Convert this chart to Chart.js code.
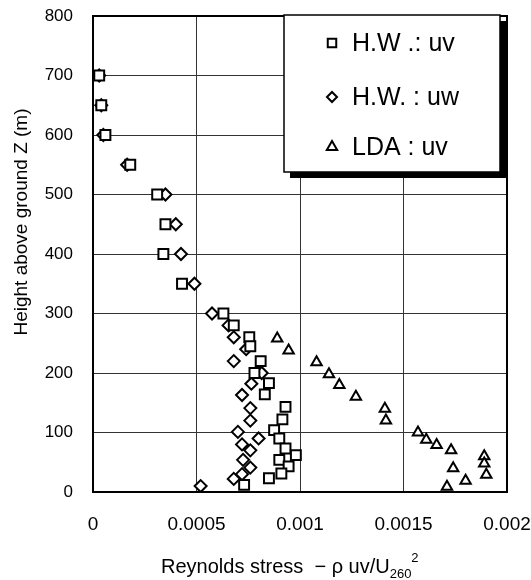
<!DOCTYPE html>
<html>
<head>
<meta charset="utf-8">
<script src="https://cdn.jsdelivr.net/npm/chart.js@4.4.0/dist/chart.umd.min.js"></script>
<style>
  html, body { margin: 0; padding: 0; background: #fff; }
</style>
</head>
<body>
<canvas id="stress-chart" width="531" height="580"></canvas>
<script>
// H.W. : uv (squares)
const hwUvHeights = [700, 650, 600, 550, 500, 450, 400, 350, 300, 280, 260, 245, 220, 200, 183, 164, 143, 122, 104, 90, 73, 62, 54, 43, 31, 23, 12];
const hwUvStress  = [0.00003, 0.00004, 0.00006, 0.00018, 0.00031, 0.00035, 0.00034, 0.00043, 0.00063, 0.00068, 0.000755, 0.00076, 0.00081, 0.00078, 0.00085, 0.00083, 0.00093, 0.000915, 0.000875, 0.0009, 0.00093, 0.00098, 0.0009, 0.000945, 0.00091, 0.00085, 0.00073];

// H.W. : uw (diamonds)
const hwUwHeights = [700, 650, 600, 550, 500, 450, 400, 350, 300, 280, 260, 240, 220, 200, 182, 163, 141, 120, 101, 90, 80, 70, 54, 41, 30, 22, 10];
const hwUwStress  = [0.00003, 0.00004, 0.00005, 0.000165, 0.00035, 0.0004, 0.000425, 0.00049, 0.000575, 0.000655, 0.00068, 0.00074, 0.00068, 0.000815, 0.000765, 0.00072, 0.00076, 0.00076, 0.0007, 0.0008, 0.00072, 0.00076, 0.000725, 0.00076, 0.00072, 0.00068, 0.00052];

// LDA : uv (triangles)
const ldaHeights = [258, 238, 218, 198, 180, 160, 140, 120, 100, 88, 79, 70, 60, 48, 40, 29, 19, 9];
const ldaStress  = [0.00089, 0.000945, 0.00108, 0.00114, 0.00119, 0.00127, 0.00141, 0.001415, 0.00157, 0.00161, 0.00166, 0.00173, 0.00189, 0.00189, 0.00174, 0.0019, 0.0018, 0.00171];

const seriesLabels = ['H.W .: uv', 'H.W. : uw', 'LDA : uv'];
const xTickValues = [0, 0.0005, 0.001, 0.0015, 0.002];
const xTickLabels = ['0', '0.0005', '0.001', '0.0015', '0.002'];

const FONT = "'Liberation Sans', Arial, Helvetica, sans-serif";

function toPoints(xs, ys) {
    return xs.map((x, i) => ({ x: x, y: ys[i] }));
}

// legend box, frame and axis titles
const decorPlugin = {
    id: 'decor',
    afterDraw(chart) {
        const ctx = chart.ctx;
        const area = chart.chartArea;
        ctx.save();

        // plot frame
        ctx.strokeStyle = '#000';
        ctx.lineWidth = 2;
        ctx.strokeRect(area.left, area.top, area.right - area.left, area.bottom - area.top);

        // legend box with shadow
        const bx = 284, by = 15, bw = 216, bh = 157;
        ctx.fillStyle = '#000';
        ctx.fillRect(bx + 6, by + 6, bw, bh);
        ctx.fillStyle = '#fff';
        ctx.fillRect(bx, by, bw, bh);
        ctx.lineWidth = 1.5;
        ctx.strokeStyle = '#000';
        ctx.strokeRect(bx, by, bw, bh);

        const rows = [43, 97, 147];
        const radii = [6, 5, 6];
        chart.data.datasets.forEach((ds, i) => {
            ctx.fillStyle = '#fff';
            ctx.strokeStyle = '#000';
            ctx.lineWidth = 2;
            Chart.helpers.drawPoint(ctx, {
                pointStyle: ds.pointStyle,
                radius: radii[i],
                borderWidth: 2,
                rotation: 0
            }, 332, rows[i]);
            ctx.fillStyle = '#000';
            ctx.font = '25px ' + FONT;
            ctx.textAlign = 'left';
            ctx.textBaseline = 'middle';
            ctx.fillText(ds.label, 352, rows[i] + 1);
        });

        // y title
        ctx.save();
        ctx.translate(22, 222);
        ctx.rotate(-Math.PI / 2);
        ctx.font = '19px ' + FONT;
        ctx.textAlign = 'center';
        ctx.textBaseline = 'middle';
        ctx.fillStyle = '#000';
        ctx.fillText('Height above ground Z (m)', 0, 0);
        ctx.restore();

        // x title with subscript / superscript
        ctx.fillStyle = '#000';
        ctx.textAlign = 'left';
        ctx.textBaseline = 'alphabetic';
        ctx.font = '20px ' + FONT;
        const main = 'Reynolds stress  \u2212 \u03C1 uv/U';
        let x = 161;
        ctx.fillText(main, x, 573);
        x += ctx.measureText(main).width;
        ctx.font = '13px ' + FONT;
        ctx.fillText('260', x, 578);
        x += ctx.measureText('260').width;
        ctx.fillText('2', x, 562);

        ctx.restore();
    }
};

const ctx = document.getElementById('stress-chart').getContext('2d');
new Chart(ctx, {
    type: 'scatter',
    data: {
        datasets: [
            {
                label: seriesLabels[0],
                data: toPoints(hwUvStress, hwUvHeights),
                pointStyle: 'rect', pointRadius: 7,
                borderColor: '#000', backgroundColor: '#fff', borderWidth: 2
            },
            {
                label: seriesLabels[1],
                data: toPoints(hwUwStress, hwUwHeights),
                pointStyle: 'rectRot', pointRadius: 6,
                borderColor: '#000', backgroundColor: '#fff', borderWidth: 2
            },
            {
                label: seriesLabels[2],
                data: toPoints(ldaStress, ldaHeights),
                pointStyle: 'triangle', pointRadius: 6,
                borderColor: '#000', backgroundColor: '#fff', borderWidth: 2
            }
        ]
    },
    options: {
        responsive: false,
        animation: false,
        layout: { padding: { top: 16, right: 24, left: 0, bottom: 0 } },
        plugins: {
            legend: { display: false },
            tooltip: { enabled: false }
        },
        scales: {
            x: {
                type: 'linear',
                min: 0, max: 0.002,
                afterBuildTicks: scale => { scale.ticks = xTickValues.map(v => ({ value: v })); },
                afterFit: scale => {
                    scale.height = 88;
                    scale.paddingLeft = 0;
                    scale.paddingRight = 0;
                },
                ticks: {
                    color: '#000',
                    font: { family: FONT, size: 19 },
                    padding: 21,
                    maxRotation: 0,
                    callback: (v, i) => xTickLabels[i]
                },
                grid: { color: '#333', lineWidth: 1, drawTicks: false },
                border: { display: false }
            },
            y: {
                type: 'linear',
                min: 0, max: 800,
                afterFit: scale => {
                    scale.width = 93;
                    scale.paddingTop = 0;
                    scale.paddingBottom = 0;
                },
                ticks: {
                    stepSize: 100,
                    color: '#000',
                    font: { family: FONT, size: 17 },
                    padding: 20
                },
                grid: { color: '#333', lineWidth: 1, drawTicks: false },
                border: { display: false }
            }
        }
    },
    plugins: [decorPlugin]
});
</script>
</body>
</html>
